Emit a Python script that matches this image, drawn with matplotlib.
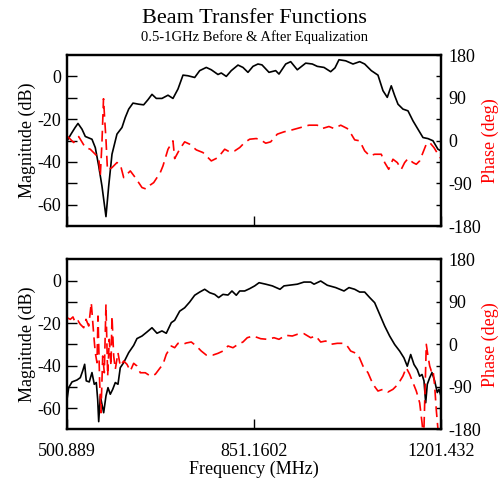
import matplotlib.pyplot as plt

plt.rcParams['font.family'] = 'Liberation Serif'
plt.rcParams['axes.unicode_minus'] = False

F_MIN, F_MID, F_MAX = 500.889, 851.1602, 1201.432
X_TICK_LABELS = ['500.889', '851.1602', '1201.432']

# --- before equalization (top panel) ---
freq_mag_before = [500.9, 508.4, 515.9, 521.5, 529.0, 535.2, 547.7, 553.9, 560.3, 566.4,
                   573.9, 579.0, 585.2, 594.5, 603.9, 610.1, 616.5, 624.5, 635.2, 644.5,
                   652.6, 660.1, 668.2, 678.8, 690.1, 699.4, 708.8, 718.2, 727.5, 740.1,
                   749.5, 761.8, 771.2, 783.7, 789.9, 799.3, 808.6, 821.2, 830.5, 839.9,
                   849.3, 858.6, 866.1, 879.3, 891.8, 898.0, 910.6, 919.9, 932.3, 948.0,
                   960.4, 969.7, 982.3, 994.8, 1002.9, 1010.4, 1022.9, 1036.6, 1049.2, 1058.5,
                   1070.9, 1083.4, 1092.8, 1100.8, 1108.3, 1114.7, 1120.9, 1130.2, 1139.6, 1149.0,
                   1158.3, 1167.7, 1177.1, 1186.4, 1195.8, 1201.4]
mag_before = [-30.2, -27.0, -24.0, -22.0, -24.7, -28.1, -29.4, -33.3, -41.9, -51.3,
              -65.6, -51.3, -36.4, -27.0, -23.9, -19.2, -15.3, -12.5, -13.0, -13.3,
              -10.9, -8.4, -10.3, -10.3, -8.8, -10.3, -5.9, 0.6, 0.3, -0.5,
              2.7, 4.2, 3.1, 0.9, 1.6, 0.0, 2.7, 5.3, 4.2, 1.9,
              4.7, 5.8, 5.4, 1.9, 2.7, 1.1, 5.8, 6.9, 3.1, 6.2,
              5.8, 4.7, 4.2, 2.2, 4.0, 7.8, 7.3, 5.8, 6.9, 5.8,
              2.7, 0.6, -6.7, -9.8, -4.4, -9.0, -13.0, -15.3, -16.1, -20.8,
              -24.7, -28.6, -29.1, -30.1, -34.1, -34.8]

freq_phase_before = [500.9, 513.4, 522.8, 535.2, 544.5, 553.9, 560.3, 563.3, 566.4, 569.3,
                     571.5, 573.9, 576.7, 585.2, 594.5, 600.7, 607.1, 613.3, 619.5, 628.8,
                     641.4, 648.9, 656.4, 663.3, 675.6, 680.7, 690.1, 699.4, 702.6, 712.0,
                     721.3, 730.7, 743.1, 755.6, 771.2, 783.7, 796.3, 805.6, 815.0, 824.4,
                     833.7, 843.1, 855.5, 863.7, 873.1, 882.4, 894.8, 907.4, 922.9, 938.6,
                     954.2, 969.7, 979.1, 991.6, 1001.0, 1013.6, 1025.9, 1033.4, 1039.8, 1049.2,
                     1058.5, 1067.9, 1077.2, 1089.6, 1096.0, 1103.5, 1111.5, 1119.6, 1127.1, 1133.4,
                     1139.6, 1149.0, 1155.2, 1161.5, 1167.7, 1173.9, 1180.3, 1188.3, 1195.8, 1201.4]
phase_before = [9.8, -4.2, 8.4, -14.8, -18.3, -28.9, -35.9, -74.5, -4.2, 88,
                45, 2.8, -62, -57, -46.4, -50, -78, -71, -64, -78,
                -99, -102, -94, -88.6, -67.5, -53.4, -18.3, -0.7, -38, -18.3,
                -2.8, -7.7, -19.7, -25.3, -42.9, -35.9, -18.3, -23.9, -21.8, -14.8,
                -4.2, 2.8, 4.2, 1.4, -5.6, -2.8, 13.4, 18.3, 22.5, 27.4,
                32.3, 32.3, 25.3, 29.5, 25.3, 32.3, 25.3, 13.4, 1.4, -0.7,
                -21.8, -32.3, -28.9, -28.9, -46.4, -60.5, -39.4, -46.4, -60.5, -46.4,
                -38, -46.4, -50, -42.9, -25.3, -7.7, -4.2, -14.8, -28.9, -38]

# --- after equalization (bottom panel) ---
freq_mag_after = [500.9, 504.1, 510.3, 519.6, 525.8, 530.3, 534.0, 537.0, 542.6, 547.7,
                  552.0, 555.8, 558.4, 560.3, 563.3, 566.4, 569.6, 573.9, 577.7, 582.0,
                  586.5, 591.4, 596.4, 600.7, 607.1, 616.5, 625.8, 632.0, 641.4, 650.7,
                  660.1, 669.5, 678.8, 686.9, 696.3, 702.6, 712.0, 721.3, 730.7, 740.1,
                  749.5, 758.8, 768.2, 777.5, 785.0, 793.1, 802.5, 809.9, 818.0, 824.4,
                  833.7, 843.1, 852.5, 860.7, 873.1, 885.5, 899.9, 907.4, 919.9, 932.3,
                  944.8, 957.4, 963.6, 976.1, 988.5, 1004.2, 1019.8, 1029.1, 1039.8, 1049.2,
                  1058.5, 1067.9, 1077.2, 1086.6, 1096.0, 1105.3, 1114.7, 1124.1, 1132.1, 1138.3,
                  1144.7, 1150.9, 1157.0, 1161.5, 1165.9, 1169.6, 1172.8, 1175.8, 1180.3, 1184.6,
                  1189.6, 1194.5, 1197.7, 1201.4]
mag_after = [-56.0, -50.4, -47.7, -46.8, -45.7, -42.5, -39.4, -47.2, -47.7, -43.3,
             -48.8, -48.0, -56.0, -66.4, -54.3, -58.2, -62.2, -54.3, -50.4, -53.5,
             -51.2, -48.0, -48.8, -41.0, -38.6, -33.9, -30.5, -27.3, -26.1, -24.2,
             -22.2, -24.8, -23.7, -24.8, -19.8, -18.7, -14.4, -12.8, -10.1, -6.9,
             -5.4, -4.1, -5.7, -6.5, -8.0, -6.5, -6.8, -4.9, -6.9, -4.9,
             -4.9, -3.8, -2.5, -1.0, -1.7, -2.5, -4.1, -2.5, -2.1, -1.7,
             -0.7, -0.7, -1.7, -0.2, -2.2, -3.3, -4.9, -3.3, -4.1, -5.4,
             -5.4, -8.0, -10.4, -15.9, -21.4, -26.1, -30.1, -33.2, -36.4, -40.3,
             -34.8, -39.5, -41.9, -45.0, -44.2, -47.2, -57.5, -48.8, -45.7, -43.3,
             -47.2, -52.7, -51.2, -54.3]

freq_phase_after = [500.9, 507.1, 512.1, 516.4, 521.5, 525.8, 532.2, 536.5, 541.6, 546.4,
                    550.9, 553.9, 557.1, 559.0, 562.1, 564.6, 567.8, 570.8, 573.9, 577.1,
                    580.1, 583.3, 585.2, 588.4, 591.4, 596.4, 600.7, 607.1, 613.3, 619.5,
                    625.8, 632.0, 638.2, 647.5, 656.9, 666.3, 675.6, 680.7, 686.9, 696.3,
                    702.6, 708.8, 718.2, 724.4, 733.7, 743.1, 752.4, 761.8, 774.3, 783.7,
                    793.1, 802.5, 811.8, 821.2, 830.5, 838.6, 849.3, 858.6, 863.7, 876.1,
                    888.6, 898.0, 910.6, 922.9, 932.3, 944.8, 957.4, 966.8, 976.1, 985.5,
                    994.8, 1007.2, 1018.4, 1025.9, 1032.3, 1039.8, 1046.0, 1055.3, 1064.7, 1074.1,
                    1083.4, 1092.8, 1102.2, 1111.5, 1120.9, 1130.2, 1136.4, 1142.8, 1149.0, 1155.2,
                    1161.5, 1165.9, 1169.0, 1172.0, 1173.9, 1177.1, 1180.3, 1183.3, 1186.4, 1189.6,
                    1192.6, 1195.8, 1199.0, 1201.4]
phase_after = [56.4, 52.9, 58.0, 45.8, 50.0, 42.4, 35.2, 52.9, 38.8, 88.1,
               21.2, -17.8, -39.0, 59.9, -81.3, -144.9, -24.8, -60.2, 84.7, -67.1,
               10.6, -46.0, 59.9, -24.8, -53.0, -17.8, -46.0, -35.4, -42.4, -56.5,
               -40.2, -46.0, -60.2, -60.2, -67.1, -63.5, -49.5, -42.4, -21.2, -3.6,
               -7.2, 2.1, 0.0, 2.8, 4.9, -3.6, -14.2, -22.7, -22.7, -19.1,
               -14.2, -3.6, -7.2, 0.0, 4.9, 14.0, 17.6, 14.0, 11.9, 10.6,
               14.0, 10.6, 19.1, 17.6, 21.2, 22.5, 14.0, 17.6, 4.9, 7.0,
               0.0, 2.1, 2.1, -3.6, -14.2, -17.8, -21.2, -46.0, -60.2, -84.7,
               -98.9, -95.3, -101.0, -95.3, -84.7, -67.1, -49.5, -63.5, -81.3, -98.9,
               -123.7, -166.0, -200.0, -81.3, 0.0, -24.8, -46.0, -56.5, -53.0, -87.7,
               -138.5, -180.0, -200.0, -200.0]


def draw_panel(fig, rect, freq_mag, mag, freq_phase, phase, show_xlabels):
    ax = fig.add_axes(rect)
    ax.plot(freq_mag, mag, color='black', linewidth=1.2)
    ax.set_xlim(F_MIN, F_MAX)
    ax.set_ylim(-70, 10)
    ax.set_xticks([F_MIN, F_MID, F_MAX])
    ax.set_xticklabels(X_TICK_LABELS if show_xlabels else [])
    ax.set_yticks([0, -20, -40, -60])
    ax.set_yticks([-10, -30, -50], minor=True)
    ax.tick_params(axis='both', which='both', direction='in', length=7, width=1,
                   labelsize=13, top=False, right=False)
    ax.tick_params(axis='x', pad=10)
    ax.tick_params(axis='y', pad=4)
    ax.set_ylabel('Magnitude (dB)', fontsize=13, labelpad=1)
    for sp in ax.spines.values():
        sp.set_linewidth(1.6)

    ax2 = ax.twinx()
    ax2.plot(freq_phase, phase, color='red', linewidth=1.2, dashes=(6.5, 3.5))
    ax2.set_ylim(-180, 180)
    ax2.set_yticks([180, 90, 0, -90, -180])
    ax2.set_yticks([135, 45, -45, -135], minor=True)
    ax2.tick_params(axis='y', which='both', direction='in', length=3.5, width=1,
                    labelsize=13, pad=5)
    ax2.set_ylabel('Phase (deg)', fontsize=13, color='red', labelpad=1)
    for sp in ax2.spines.values():
        sp.set_linewidth(1.6)
    return ax


fig = plt.figure(figsize=(5.01, 4.84), dpi=100)

draw_panel(fig, [0.1337, 0.533, 0.7465, 0.3533],
           freq_mag_before, mag_before, freq_phase_before, phase_before, False)
ax_b = draw_panel(fig, [0.1337, 0.113, 0.7465, 0.3512],
                  freq_mag_after, mag_after, freq_phase_after, phase_after, True)
ax_b.set_xlabel('Frequency (MHz)', fontsize=13, labelpad=0)

fig.text(0.507, 0.962, 'Beam Transfer Functions', fontsize=16, ha='center', va='center')
fig.text(0.507, 0.924, '0.5-1GHz Before & After Equalization', fontsize=10.5,
         ha='center', va='center')

fig.savefig('out.png', dpi=100)
